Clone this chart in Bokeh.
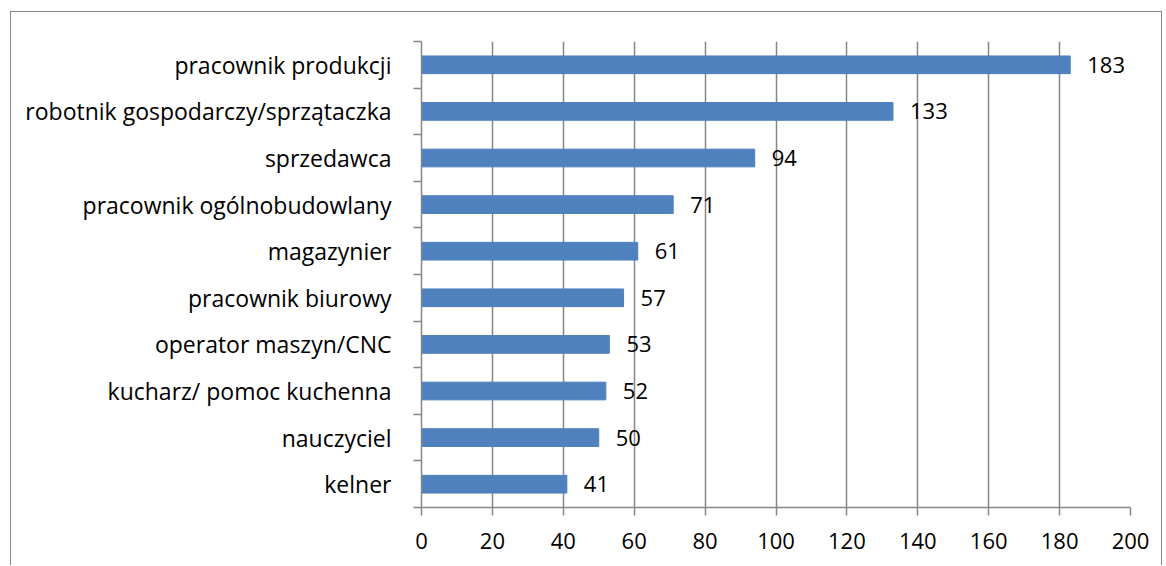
import numpy as np
from bokeh.plotting import figure
from bokeh.models import FixedTicker, ColumnDataSource, LabelSet
from bokeh.core.properties import value
from bokeh.embed import file_html
from bokeh.resources import INLINE

categories = ["pracownik produkcji", "robotnik gospodarczy/sprzątaczka", "sprzedawca",
              "pracownik ogólnobudowlany", "magazynier", "pracownik biurowy",
              "operator maszyn/CNC", "kucharz/ pomoc kuchenna", "nauczyciel", "kelner"]
values = [183, 133, 94, 71, 61, 57, 53, 52, 50, 41]
x_ticks = [0, 20, 40, 60, 80, 100, 120, 140, 160, 180, 200]

n = len(categories)
ypos = [n - i - 0.5 for i in range(n)]
src = ColumnDataSource(dict(y=ypos, v=values, lab=[str(v) for v in values]))

FONT = "Open Sans"
FS = "22px"
GRID = "#868686"

p = figure(width=1152, height=554, output_backend="svg", toolbar_location=None,
           x_range=(0, 200), y_range=(0, n),
           min_border_left=410, min_border_right=33, min_border_top=29, min_border_bottom=59)
p.styles = {"margin-left": "10px", "margin-top": "11px",
            "border-left": "1px solid #868686", "border-top": "1px solid #868686",
            "border-right": "1px solid #868686"}
p.outline_line_color = None
p.hbar(y="y", right="v", left=0, height=0.38, source=src, color="#4F81BD")

labels = LabelSet(x="v", y="y", text="lab", source=src, x_offset=17,
                  text_baseline="middle", text_font=value(FONT), text_font_size=value(FS),
                  text_color="black")
p.add_layout(labels)

p.xaxis.ticker = FixedTicker(ticks=x_ticks)
p.xaxis.axis_line_color = GRID
p.xaxis.axis_line_width = 1.5
p.xaxis.major_tick_line_color = GRID
p.xaxis.major_tick_line_width = 1.5
p.xaxis.major_tick_in = 0
p.xaxis.major_tick_out = 8
p.xaxis.minor_tick_line_color = None
p.xaxis.major_label_text_font = FONT
p.xaxis.major_label_text_font_size = FS
p.xaxis.major_label_text_color = "black"
p.xaxis.major_label_standoff = 17

p.yaxis.ticker = FixedTicker(ticks=ypos, minor_ticks=list(range(n + 1)))
p.yaxis.major_label_overrides = {y: c for y, c in zip(ypos, categories)}
p.yaxis.axis_line_color = GRID
p.yaxis.axis_line_width = 1.5
p.yaxis.major_tick_line_color = None
p.yaxis.major_tick_in = 0
p.yaxis.major_tick_out = 8
p.yaxis.minor_tick_line_color = GRID
p.yaxis.minor_tick_line_width = 1.5
p.yaxis.minor_tick_in = 0
p.yaxis.minor_tick_out = 8
p.yaxis.major_label_text_font = FONT
p.yaxis.major_label_text_font_size = "23px"
p.yaxis.major_label_text_color = "black"
p.yaxis.major_label_standoff = 22

p.xgrid.ticker = FixedTicker(ticks=x_ticks)
p.xgrid.grid_line_color = GRID
p.xgrid.grid_line_width = 1.5
p.ygrid.grid_line_color = None

open("out.html", "w").write(file_html(p, INLINE))
